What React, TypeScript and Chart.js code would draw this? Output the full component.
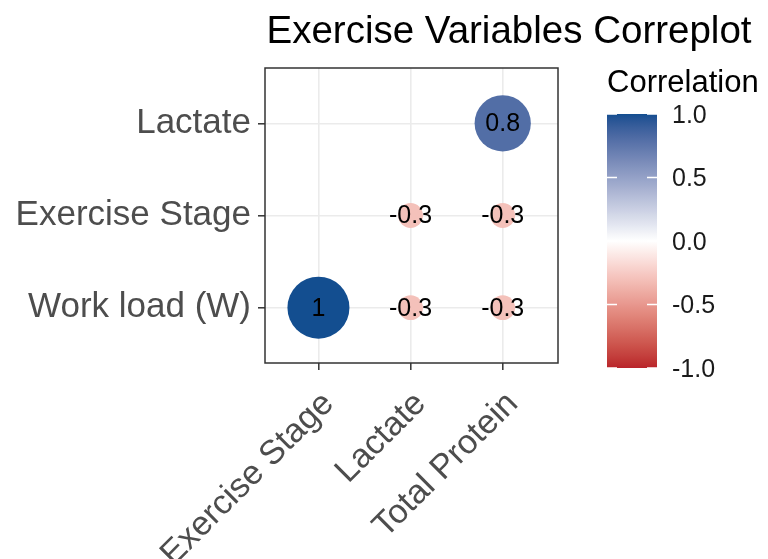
import React, { useEffect, useRef } from "react";
import { Chart, registerables } from "chart.js";

Chart.register(...registerables);

// ---------------- data ----------------
const xCategories = ["Exercise Stage", "Lactate", "Total Protein"];
const yCategories = ["Work load (W)", "Exercise Stage", "Lactate"];
const cellCol = [0, 1, 2, 1, 2, 2];
const cellRow = [0, 0, 0, 1, 1, 2];
const corrValues = [1, -0.3, -0.3, -0.3, -0.3, 0.8];
const corrLabels = ["1", "-0.3", "-0.3", "-0.3", "-0.3", "0.8"];
const legendTicks = [1.0, 0.5, 0.0, -0.5, -1.0];
const legendTickLabels = ["1.0", "0.5", "0.0", "-0.5", "-1.0"];
const TITLE = "Exercise Variables Correplot";
const LEGEND_TITLE = "Correlation";

// ---------------- style ----------------
const FONT = "'Liberation Sans', Arial, Helvetica, sans-serif";
const LOW = "#B9232A";
const MID = "#FFFFFF";
const HIGH = "#134E90";
const AXIS_TEXT = "#4D4D4D";

// ---- Lab colour interpolation (like ggplot's gradient2) ----
function hexToRgb(h: string) {
  const n = parseInt(h.slice(1), 16);
  return [(n >> 16) & 255, (n >> 8) & 255, n & 255];
}
function toLin(c: number) {
  c /= 255;
  return c <= 0.04045 ? c / 12.92 : Math.pow((c + 0.055) / 1.055, 2.4);
}
function fromLin(c: number) {
  const v = c <= 0.0031308 ? 12.92 * c : 1.055 * Math.pow(c, 1 / 2.4) - 0.055;
  return Math.round(Math.max(0, Math.min(1, v)) * 255);
}
function rgbToLab(rgb: number[]) {
  const R = toLin(rgb[0]), G = toLin(rgb[1]), B = toLin(rgb[2]);
  const X = (0.4124 * R + 0.3576 * G + 0.1805 * B) / 0.95047;
  const Y = 0.2126 * R + 0.7152 * G + 0.0722 * B;
  const Z = (0.0193 * R + 0.1192 * G + 0.9505 * B) / 1.08883;
  const f = (t: number) => (t > 0.008856 ? Math.cbrt(t) : 7.787 * t + 16 / 116);
  const fx = f(X), fy = f(Y), fz = f(Z);
  return [116 * fy - 16, 500 * (fx - fy), 200 * (fy - fz)];
}
function labToRgb(lab: number[]) {
  const fy = (lab[0] + 16) / 116, fx = fy + lab[1] / 500, fz = fy - lab[2] / 200;
  const inv = (t: number) => (t * t * t > 0.008856 ? t * t * t : (t - 16 / 116) / 7.787);
  const X = inv(fx) * 0.95047, Y = inv(fy), Z = inv(fz) * 1.08883;
  const R = 3.2406 * X - 1.5372 * Y - 0.4986 * Z;
  const G = -0.9689 * X + 1.8758 * Y + 0.0415 * Z;
  const B = 0.0557 * X - 0.204 * Y + 1.057 * Z;
  return [fromLin(R), fromLin(G), fromLin(B)];
}
const LAB_LOW = rgbToLab(hexToRgb(LOW));
const LAB_MID = rgbToLab(hexToRgb(MID));
const LAB_HIGH = rgbToLab(hexToRgb(HIGH));
function colorFor(v: number) {
  const t = Math.min(1, Math.abs(v));
  const end = v >= 0 ? LAB_HIGH : LAB_LOW;
  const lab = [0, 1, 2].map((k) => LAB_MID[k] + (end[k] - LAB_MID[k]) * t);
  const c = labToRgb(lab);
  return `rgb(${c[0]},${c[1]},${c[2]})`;
}

// ---- circle size (area scale, range 4..10) ----
const absVals = corrValues.map((v) => Math.abs(v));
const absLo = Math.min(...absVals);
const absHi = Math.max(...absVals);
function radiusFor(v: number) {
  const t = absHi === absLo ? 1 : (Math.abs(v) - absLo) / (absHi - absLo);
  return 3.1 * (4 + 6 * Math.sqrt(t));
}

const decorPlugin = {
  id: "decor",
  afterDatasetsDraw(chart: any) {
    const ctx = chart.ctx;
    const meta = chart.getDatasetMeta(0);
    ctx.save();
    ctx.fillStyle = "#000";
    ctx.font = `25px ${FONT}`;
    ctx.textAlign = "center";
    ctx.textBaseline = "middle";
    meta.data.forEach((el: any, i: number) => {
      ctx.fillText(corrLabels[i], el.x, el.y + 1);
    });
    ctx.restore();
  },
  afterDraw(chart: any) {
    const ctx = chart.ctx;
    const { left, top, right, bottom } = chart.chartArea;
    ctx.save();
    // panel border
    ctx.strokeStyle = "#333333";
    ctx.lineWidth = 1.5;
    ctx.strokeRect(left, top, right - left, bottom - top);

    // title
    ctx.fillStyle = "#000";
    ctx.font = `38.5px ${FONT}`;
    ctx.textAlign = "center";
    ctx.textBaseline = "alphabetic";
    ctx.fillText(TITLE, 509, 43);

    // legend title
    ctx.font = `31px ${FONT}`;
    ctx.textAlign = "left";
    ctx.fillText(LEGEND_TITLE, 607, 92);

    // colour bar
    const bx = 607, bw = 50;
    const yOf = (v: number) => 241 - v * 127;
    const yTop = yOf(1), yBot = yOf(-1);
    const grad = ctx.createLinearGradient(0, yTop, 0, yBot);
    const N = 60;
    for (let i = 0; i <= N; i++) {
      const v = 1 - (2 * i) / N;
      grad.addColorStop(i / N, colorFor(v));
    }
    ctx.fillStyle = grad;
    ctx.fillRect(bx, yTop, bw, yBot - yTop);

    ctx.strokeStyle = "#FFFFFF";
    ctx.lineWidth = 1.5;
    legendTicks.forEach((v) => {
      const y = yOf(v);
      ctx.beginPath();
      ctx.moveTo(bx, y);
      ctx.lineTo(bx + 10, y);
      ctx.moveTo(bx + bw - 10, y);
      ctx.lineTo(bx + bw, y);
      ctx.stroke();
    });

    ctx.fillStyle = "#1A1A1A";
    ctx.font = `25px ${FONT}`;
    ctx.textAlign = "left";
    ctx.textBaseline = "middle";
    legendTicks.forEach((v, i) => {
      ctx.fillText(legendTickLabels[i], 672, yOf(v) + 2);
    });
    ctx.restore();
  },
};

export default function App() {
  const ref = useRef<HTMLCanvasElement | null>(null);

  useEffect(() => {
    if (!ref.current) return;
    const points = corrValues.map((v, i) => ({
      x: cellCol[i],
      y: cellRow[i],
      r: radiusFor(v),
    }));
    const chart = new Chart(ref.current, {
      type: "bubble",
      data: {
        datasets: [
          {
            data: points as any,
            backgroundColor: corrValues.map((v) => colorFor(v)),
            borderWidth: 0,
            hoverBorderWidth: 0,
          },
        ],
      },
      plugins: [decorPlugin],
      options: {
        animation: false,
        responsive: false,
        devicePixelRatio: 1,
        events: [],
        layout: { padding: { top: 68, right: 210, left: 0, bottom: 0 } },
        plugins: {
          legend: { display: false },
          tooltip: { enabled: false },
          title: { display: false },
        },
        scales: {
          x: {
            type: "linear",
            min: -0.58,
            max: 2.6,
            afterBuildTicks: (scale: any) => {
              scale.ticks = xCategories.map((_, i) => ({ value: i }));
            },
            afterFit: (scale: any) => {
              scale.height = 196;
            },
            border: { display: false },
            grid: {
              color: "#EBEBEB",
              lineWidth: 1.6,
              tickColor: "#333333",
              tickLength: 7,
              tickWidth: 1.5,
            },
            ticks: {
              autoSkip: false,
              minRotation: 45,
              maxRotation: 45,
              padding: 14,
              labelOffset: 10,
              color: AXIS_TEXT,
              font: { family: FONT, size: 34 },
              callback: (v: any) => xCategories[v as number] ?? "",
            },
          },
          y: {
            type: "linear",
            min: -0.6,
            max: 2.6,
            afterBuildTicks: (scale: any) => {
              scale.ticks = yCategories.map((_, i) => ({ value: i }));
            },
            afterFit: (scale: any) => {
              scale.width = 265;
            },
            border: { display: false },
            grid: {
              color: "#EBEBEB",
              lineWidth: 1.6,
              tickColor: "#333333",
              tickLength: 7,
              tickWidth: 1.5,
            },
            ticks: {
              padding: 7,
              color: AXIS_TEXT,
              font: { family: FONT, size: 35 },
              callback: (v: any) => yCategories[v as number] ?? "",
            },
          },
        },
      } as any,
    });
    return () => chart.destroy();
  }, []);

  return (
    <div style={{ position: "absolute", left: 0, top: 0, width: 768, height: 559, background: "#fff" }}>
      <canvas ref={ref} width={768} height={559} style={{ display: "block" }} />
    </div>
  );
}
